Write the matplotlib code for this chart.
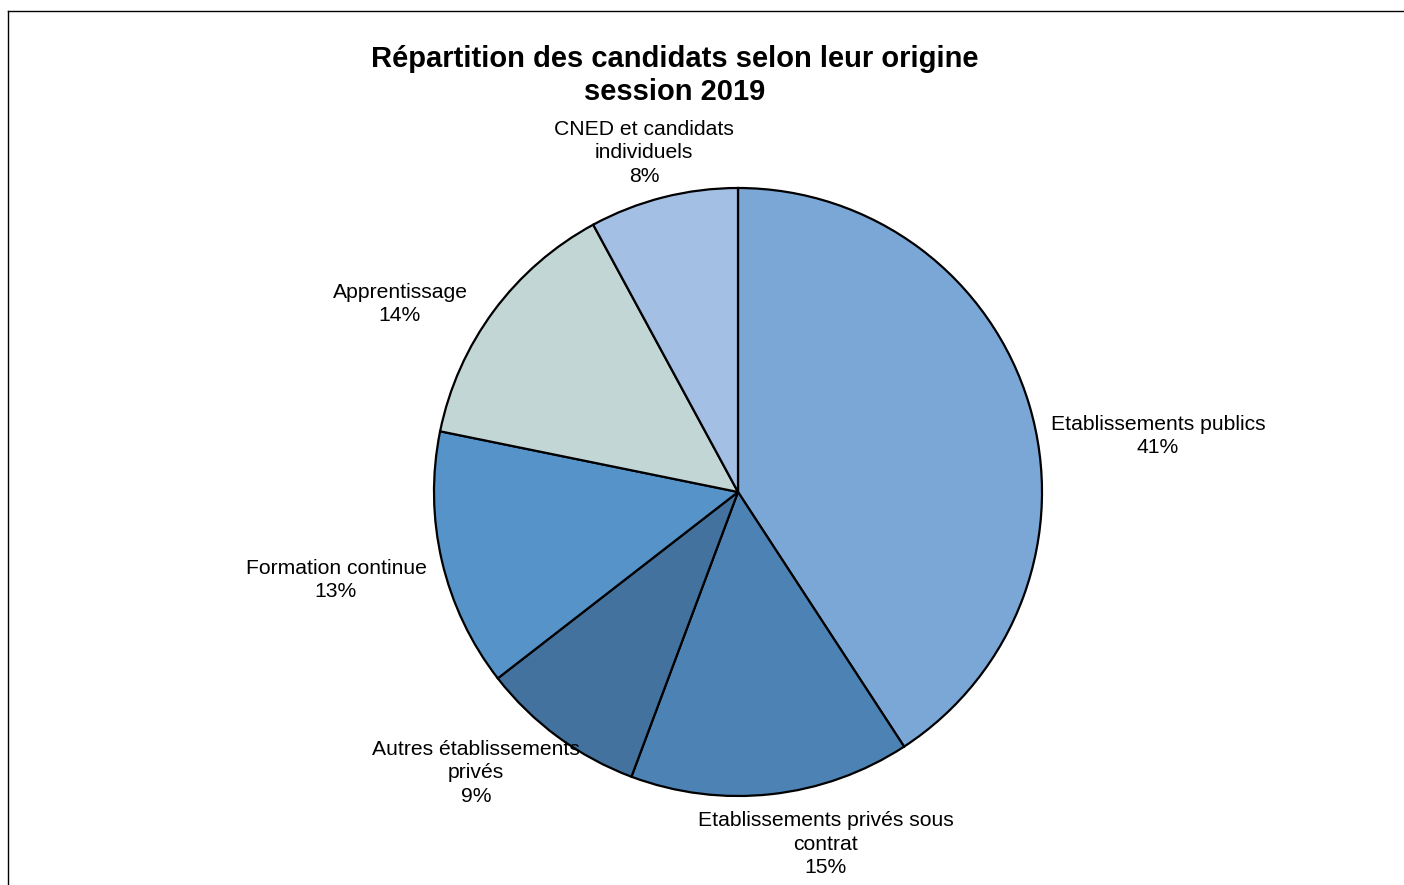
import matplotlib
matplotlib.use("Agg")
import matplotlib.pyplot as plt
from matplotlib.lines import Line2D

plt.rcParams['font.family'] = ['Liberation Sans', 'DejaVu Sans']

# ---- data ----
categories = [
    "Etablissements publics",
    "Etablissements privés sous\ncontrat",
    "Autres établissements\nprivés",
    "Formation continue",
    "Apprentissage",
    "CNED et candidats\nindividuels",
]
values = [40.8, 14.9, 8.8, 13.7, 13.9, 7.9]          # wedge shares (%)
pct_labels = ["41%", "15%", "9%", "13%", "14%", "8%"]  # percentages as printed on the chart
colors = ["#7BA7D7", "#4C83B4", "#43729E", "#5593C9", "#C3D6D6", "#A3BFE3"]
title = "Répartition des candidats selon leur origine\nsession 2019"

# label anchor positions (pixel layout, top-left origin)
label_pos = [(1158, 436), (826, 844), (476, 773), (336, 580), (400, 304), (644, 153)]

W, H = 1404, 885
fig = plt.figure(figsize=(W / 100, H / 100), dpi=100)
ax = fig.add_axes([0, 0, 1, 1])

ax.pie(values, colors=colors, startangle=90, counterclock=False,
       center=(738, H - 492), radius=304,
       wedgeprops=dict(edgecolor="black", linewidth=1.6))
ax.set_xlim(0, W)
ax.set_ylim(0, H)
ax.set_aspect("equal")
ax.set_axis_off()

for cat, lab, (px, py) in zip(categories, pct_labels, label_pos):
    ax.text(px, H - py, f"{cat}\n{lab}", ha="center", va="center",
            fontsize=15.2, linespacing=1.33, color="black")

ax.text(675, H - 75.5, title, ha="center", va="center", fontsize=21,
        fontweight="bold", linespacing=1.25)

# chart border (top and left visible)
fig.add_artist(Line2D([7.5 / W, 7.5 / W], [0, 1 - 10.5 / H], color="black",
                      linewidth=1.0, transform=fig.transFigure))
fig.add_artist(Line2D([7.5 / W, 1], [1 - 10.5 / H, 1 - 10.5 / H], color="black",
                      linewidth=1.0, transform=fig.transFigure))

fig.savefig("out.png", dpi=100)
